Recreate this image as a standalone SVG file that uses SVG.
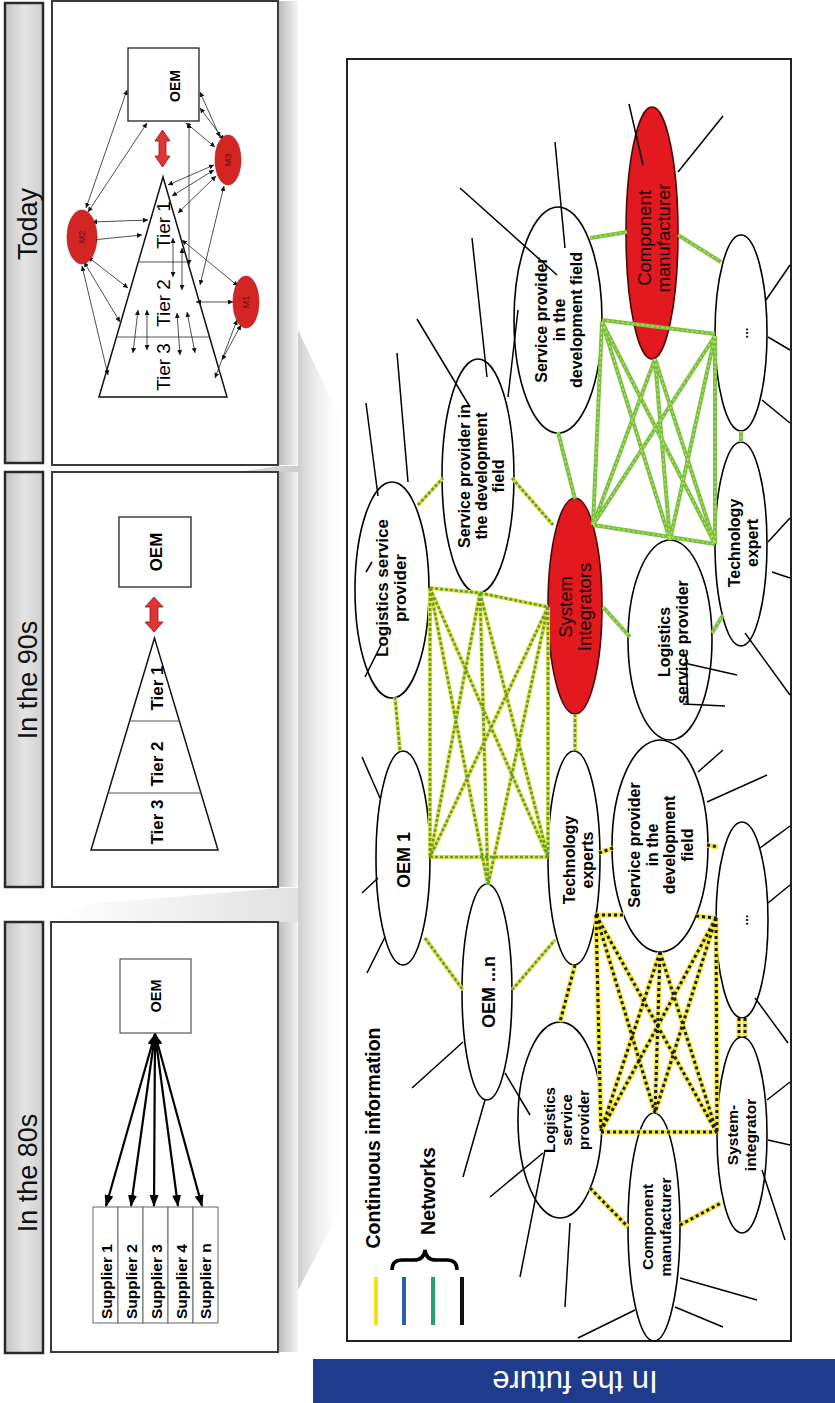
<svg xmlns="http://www.w3.org/2000/svg" width="835" height="1403" viewBox="0 0 835 1403">
<defs>
<style>
.t{font-family:"Liberation Sans",Arial,sans-serif;text-anchor:middle;fill:#000}
.b{font-weight:bold}
.hd{font-size:27px;fill:#111}
.box{fill:#fff;stroke:#3a3a3a;stroke-width:2}
.hbar{fill:url(#hdr);stroke:#2a2a2a;stroke-width:2.5}
.el{fill:#fff;stroke:#000;stroke-width:1.6}
.red{fill:#e2191e;stroke:#4a0808;stroke-width:1.6}
.lb{font-size:16px;font-weight:bold}
.rl{font-size:18.5px;fill:#1a0505}
.stub{stroke:#000;stroke-width:1.5;fill:none}
.c1{stroke:#78c044;stroke-width:4;fill:none}
.c1o{stroke:#d4e65a;stroke-width:1.2;stroke-dasharray:2 3;fill:none}
.c2{stroke:#e4e23c;stroke-width:4;fill:none}
.c2o{stroke:#5e9c3c;stroke-width:2.6;stroke-dasharray:3 2;fill:none}
.c3{stroke:#f2e83a;stroke-width:5;fill:none}
.c3o{stroke:#1a1a1a;stroke-width:3;stroke-dasharray:3 3;fill:none}
.ta{stroke:#222;stroke-width:0.8;marker-start:url(#sa);marker-end:url(#sa)}
.ba{stroke:#000;stroke-width:2.2;marker-start:url(#ba);marker-end:url(#ba)}
.mb{fill:#d42525;stroke:#a01515;stroke-width:0.6}
.ml{font-size:9px;fill:#6a0f0f}
.dar{fill:#e03535;stroke:#8a1515;stroke-width:0.8}
.tri{fill:#fff;stroke:#111;stroke-width:1.5}
.div{stroke:#555;stroke-width:1}
.sq{fill:#fff;stroke:#222;stroke-width:1.3}
.sup{fill:#fff;stroke:#666;stroke-width:1}
.st{font-size:15.5px;font-weight:bold;text-anchor:start}
</style>
<linearGradient id="hdr" x1="0" y1="0" x2="1" y2="0"><stop offset="0" stop-color="#c4c4c4"/><stop offset="0.5" stop-color="#e4e4e4"/><stop offset="1" stop-color="#cfcfcf"/></linearGradient>
<linearGradient id="shR" x1="0" y1="0" x2="1" y2="0"><stop offset="0" stop-color="#b9b9b9"/><stop offset="1" stop-color="#f4f4f4"/></linearGradient>
<linearGradient id="fan" x1="0" y1="0" x2="1" y2="0"><stop offset="0" stop-color="#cdcdcd"/><stop offset="1" stop-color="#ffffff" stop-opacity="0"/></linearGradient>
<linearGradient id="wedge" x1="0" y1="0" x2="1" y2="0"><stop offset="0" stop-color="#ffffff"/><stop offset="1" stop-color="#cdcdcd"/></linearGradient>
<marker id="sa" viewBox="0 0 6 6" markerWidth="5" markerHeight="5" refX="6" refY="3" orient="auto-start-reverse" markerUnits="userSpaceOnUse"><path d="M0,0 L6,3 L0,6 z" fill="#111"/></marker>
<marker id="ba" viewBox="0 0 12 9" markerWidth="12" markerHeight="9" refX="11" refY="4.5" orient="auto-start-reverse" markerUnits="userSpaceOnUse"><path d="M0,0 L12,4.5 L0,9 z" fill="#000"/></marker>
</defs>
<rect x="0" y="0" width="835" height="1403" fill="#fff"/>

<!-- background shading -->
<g id="shading">
<polygon points="298,330 346,430 346,1200 298,1290" fill="url(#fan)"/>
<rect x="278" y="1" width="20" height="464" fill="url(#shR)"/>
<rect x="278" y="472" width="20" height="415" fill="url(#shR)"/>
<rect x="278" y="922" width="20" height="430" fill="url(#shR)"/>
<polygon points="95,492 280,466 300,466 300,472 52,472" fill="url(#wedge)"/>
<polygon points="90,904 280,888 300,888 300,922 52,922" fill="url(#wedge)" opacity="0.6"/>
</g>

<!-- Today panel -->
<g id="panel-today">
<rect class="hbar" x="5" y="3" width="38" height="460"/>
<text class="t hd" transform="translate(37,224) rotate(-90)">Today</text>
<rect class="box" x="52" y="1" width="226" height="464"/>
<g id="today-oem"><rect class="sq" x="128" y="48" width="71" height="73"/><text class="t b" font-size="14" transform="translate(180,86) rotate(-90)">OEM</text></g>
<polygon class="dar" points="162.5,130 170,141 166,141 166,156 170,156 162.5,167 155,156 159,156 159,141 155,141"/>
<g id="today-tiers">
<polygon class="tri" points="163,177 99,397 227,397"/>
<line class="div" x1="138" y1="262" x2="188" y2="262"/>
<line class="div" x1="117" y1="337" x2="209" y2="337"/>
<text class="t" font-size="19" transform="translate(170,225) rotate(-90)">Tier 1</text>
<text class="t" font-size="19" transform="translate(170,303) rotate(-90)">Tier 2</text>
<text class="t" font-size="19" transform="translate(170,367) rotate(-90)">Tier 3</text>
</g>
<g id="today-arrows">
<line class="ta" x1="86" y1="208" x2="127" y2="90"/>
<line class="ta" x1="88" y1="212" x2="147" y2="123"/>
<line class="ta" x1="92" y1="222" x2="148" y2="220"/>
<line class="ta" x1="92" y1="240" x2="142" y2="235"/>
<line class="ta" x1="88" y1="257" x2="128" y2="288"/>
<line class="ta" x1="84" y1="262" x2="120" y2="322"/>
<line class="ta" x1="82" y1="266" x2="108" y2="375"/>
<line class="ta" x1="220" y1="137" x2="200" y2="92"/>
<line class="ta" x1="224" y1="140" x2="200" y2="108"/>
<line class="ta" x1="215" y1="147" x2="186" y2="123"/>
<line class="ta" x1="214" y1="165" x2="168" y2="185"/>
<line class="ta" x1="214" y1="170" x2="172" y2="196"/>
<line class="ta" x1="216" y1="176" x2="178" y2="213"/>
<line class="ta" x1="224" y1="186" x2="200" y2="285"/>
<line class="ta" x1="233" y1="302" x2="196" y2="302"/>
<line class="ta" x1="237" y1="320" x2="215" y2="378"/>
<line class="ta" x1="241" y1="325" x2="222" y2="360"/>
<line class="ta" x1="238" y1="286" x2="182" y2="240"/>
<line class="ta" x1="189" y1="123" x2="189" y2="265"/>
<line class="ta" x1="173" y1="238" x2="173" y2="277"/>
<line class="ta" x1="182" y1="248" x2="182" y2="290"/>
<line class="ta" x1="138" y1="310" x2="133" y2="353"/>
<line class="ta" x1="147" y1="310" x2="147" y2="350"/>
<line class="ta" x1="177" y1="313" x2="180" y2="355"/>
<line class="ta" x1="187" y1="312" x2="195" y2="353"/>
</g>
<g id="today-m2"><ellipse class="mb" cx="82" cy="237" rx="15" ry="27"/><text class="t ml" transform="translate(85,237) rotate(-90)">M2</text></g>
<g id="today-m3"><ellipse class="mb" cx="228" cy="160" rx="13" ry="25"/><text class="t ml" transform="translate(231,160) rotate(-90)">M3</text></g>
<g id="today-m1"><ellipse class="mb" cx="246" cy="302" rx="13" ry="26"/><text class="t ml" transform="translate(249,302) rotate(-90)">M1</text></g>
</g>

<!-- 90s panel -->
<g id="panel-90s">
<rect class="hbar" x="5" y="472" width="38" height="415"/>
<text class="t hd" transform="translate(37,680) rotate(-90)">In the 90s</text>
<rect class="box" x="52" y="472" width="226" height="415"/>
<g id="s90-oem"><rect class="sq" x="119" y="517" width="72" height="70"/><text class="t b" font-size="17" transform="translate(162,552) rotate(-90)">OEM</text></g>
<polygon class="dar" points="154,597 163,607 158,607 158,622 163,622 154,632 145,622 150,622 150,607 145,607"/>
<g id="s90-tiers">
<polygon class="tri" points="154.5,638 91,850 218,850"/>
<line class="div" x1="129.5" y1="721" x2="179.5" y2="721"/>
<line class="div" x1="108" y1="793" x2="201" y2="793"/>
<text class="t b" font-size="17" transform="translate(163,688) rotate(-90)">Tier 1</text>
<text class="t b" font-size="17" transform="translate(163,764) rotate(-90)">Tier 2</text>
<text class="t b" font-size="17" transform="translate(163,822) rotate(-90)">Tier 3</text>
</g>
</g>

<!-- 80s panel -->
<g id="panel-80s">
<rect class="hbar" x="5" y="922" width="38" height="431"/>
<text class="t hd" transform="translate(37,1173) rotate(-90)">In the 80s</text>
<rect class="box" x="51" y="922" width="227" height="430"/>
<g id="s80-oem"><rect x="120" y="959" width="71" height="74" fill="#fff" stroke="#333" stroke-width="1"/><text class="t b" font-size="14.5" transform="translate(161,996) rotate(-90)">OEM</text></g>
<g id="s80-suppliers">
<rect class="sup" x="93" y="1207" width="25" height="116"/>
<rect class="sup" x="118" y="1207" width="25" height="116"/>
<rect class="sup" x="143" y="1207" width="25" height="116"/>
<rect class="sup" x="168" y="1207" width="25" height="116"/>
<rect class="sup" x="193" y="1207" width="25" height="116"/>
<text class="t st" transform="translate(112,1319) rotate(-90)">Supplier 1</text>
<text class="t st" transform="translate(137,1319) rotate(-90)">Supplier 2</text>
<text class="t st" transform="translate(162,1319) rotate(-90)">Supplier 3</text>
<text class="t st" transform="translate(187,1319) rotate(-90)">Supplier 4</text>
<text class="t st" transform="translate(211,1319) rotate(-90)">Supplier n</text>
</g>
<g id="s80-arrows">
<line class="ba" x1="155" y1="1034" x2="106" y2="1206"/>
<line class="ba" x1="155" y1="1034" x2="131" y2="1206"/>
<line class="ba" x1="155" y1="1034" x2="154" y2="1206"/>
<line class="ba" x1="155" y1="1034" x2="178" y2="1206"/>
<line class="ba" x1="155" y1="1034" x2="202" y2="1206"/>
</g>
</g>

<!-- Future panel -->
<g id="panel-future">
<rect x="347" y="59" width="444" height="1282" fill="#fff" stroke="#222" stroke-width="2"/>

<g id="n-cm-top"><ellipse class="red" cx="652" cy="233" rx="26" ry="126"/><text class="t rl" transform="translate(651,238) rotate(-90)"><tspan x="0">Component</tspan><tspan x="0" dy="19">manufacturer</tspan></text></g>
<g id="n-spd-top"><ellipse class="el" cx="558" cy="320" rx="44" ry="113"/><text class="t lb" transform="translate(547,320) rotate(-90)"><tspan x="0">Service provider</tspan><tspan x="0" dy="17.5">in the</tspan><tspan x="0" dy="17.5">development field</tspan></text></g>
<g id="n-dots-top"><ellipse class="el" cx="741" cy="333" rx="26" ry="98"/><text class="t b" font-size="13" transform="translate(748,333) rotate(-90)">...</text></g>
<g id="n-techexp"><ellipse class="el" cx="741" cy="544" rx="26" ry="102"/><text class="t lb" transform="translate(740,543) rotate(-90)"><tspan x="0">Technology</tspan><tspan x="0" dy="18">expert</tspan></text></g>
<g id="n-lsp-right"><ellipse class="el" cx="670" cy="640" rx="42" ry="100"/><text class="t lb" transform="translate(670,642) rotate(-90)"><tspan x="0">Logistics</tspan><tspan x="0" dy="18">service provider</tspan></text></g>
<g id="n-sysint"><ellipse class="red" cx="575" cy="606" rx="27" ry="108"/><text class="t rl" transform="translate(572,607) rotate(-90)"><tspan x="0">System</tspan><tspan x="0" dy="19">Integrators</tspan></text></g>
<g id="n-spd-mid"><ellipse class="el" cx="478" cy="476" rx="36" ry="117"/><text class="t lb" transform="translate(470,476) rotate(-90)"><tspan x="0">Service provider in</tspan><tspan x="0" dy="17">the development</tspan><tspan x="0" dy="17">field</tspan></text></g>
<g id="n-lsp-left"><ellipse class="el" cx="392" cy="590" rx="37" ry="108"/><text class="t b" font-size="17" transform="translate(388,588) rotate(-90)"><tspan x="0">Logistics service</tspan><tspan x="0" dy="18">provider</tspan></text></g>
<g id="n-oem1"><ellipse class="el" cx="403" cy="858" rx="27" ry="107"/><text class="t b" font-size="18" transform="translate(410,860) rotate(-90)">OEM 1</text></g>
<g id="n-oemn"><ellipse class="el" cx="487" cy="992" rx="25" ry="108"/><text class="t b" font-size="18" transform="translate(495,992) rotate(-90)">OEM ...n</text></g>
<g id="n-techexps"><ellipse class="el" cx="574" cy="858" rx="26" ry="107"/><text class="t lb" transform="translate(575,860) rotate(-90)"><tspan x="0">Technology</tspan><tspan x="0" dy="18">experts</tspan></text></g>
<g id="n-spd-low"><ellipse class="el" cx="660" cy="846" rx="48" ry="106"/><text class="t lb" transform="translate(640,845) rotate(-90)"><tspan x="0">Service provider</tspan><tspan x="0" dy="17.5">in the</tspan><tspan x="0" dy="17.5">development</tspan><tspan x="0" dy="17.5">field</tspan></text></g>
<g id="n-dots-low"><ellipse class="el" cx="742" cy="920" rx="26" ry="98"/><text class="t b" font-size="13" transform="translate(748,920) rotate(-90)">...</text></g>
<g id="n-lsp-low"><ellipse class="el" cx="560" cy="1120" rx="42" ry="98"/><text class="t b" font-size="15" transform="translate(555,1120) rotate(-90)"><tspan x="0">Logistics</tspan><tspan x="0" dy="17">service</tspan><tspan x="0" dy="17">provider</tspan></text></g>
<g id="n-cm-low"><ellipse class="el" cx="654" cy="1227" rx="26" ry="114"/><text class="t b" font-size="15.5" transform="translate(653,1227) rotate(-90)"><tspan x="0">Component</tspan><tspan x="0" dy="18">manufacturer</tspan></text></g>
<g id="n-sysintegrator"><ellipse class="el" cx="742" cy="1135" rx="25" ry="98"/><text class="t b" font-size="15.5" transform="translate(738,1135) rotate(-90)"><tspan x="0">System-</tspan><tspan x="0" dy="18">integrator</tspan></text></g>

<g id="connectors">
<g class="c1"><g id="L1">
<line x1="590" y1="238" x2="627" y2="232"/>
<line x1="678" y1="235" x2="721" y2="262"/>
<line x1="602" y1="320" x2="715" y2="334"/>
<line x1="558" y1="432" x2="575" y2="499"/>
<line x1="741" y1="431" x2="741" y2="442"/>
<line x1="593" y1="525" x2="715" y2="544"/>
<line x1="602" y1="322" x2="593" y2="525"/>
<line x1="602" y1="322" x2="670" y2="540"/>
<line x1="602" y1="322" x2="715" y2="544"/>
<line x1="655" y1="359" x2="593" y2="525"/>
<line x1="655" y1="359" x2="670" y2="540"/>
<line x1="655" y1="359" x2="715" y2="544"/>
<line x1="715" y1="336" x2="593" y2="525"/>
<line x1="715" y1="336" x2="670" y2="540"/>
<line x1="715" y1="336" x2="715" y2="544"/>
<line x1="603" y1="607" x2="630" y2="637"/>
<line x1="712" y1="633" x2="723" y2="615"/>
</g></g>
<use href="#L1" class="c1o"/>
<g class="c2"><g id="L2">
<line x1="418" y1="505" x2="443" y2="478"/>
<line x1="512" y1="478" x2="553" y2="525"/>
<line x1="430" y1="588" x2="480" y2="593"/>
<line x1="480" y1="593" x2="548" y2="607"/>
<line x1="395" y1="697" x2="400" y2="751"/>
<line x1="575" y1="714" x2="575" y2="751"/>
<line x1="430" y1="857" x2="548" y2="857"/>
<line x1="430" y1="588" x2="430" y2="857"/>
<line x1="430" y1="588" x2="488" y2="885"/>
<line x1="430" y1="588" x2="548" y2="857"/>
<line x1="480" y1="593" x2="430" y2="857"/>
<line x1="480" y1="593" x2="488" y2="885"/>
<line x1="480" y1="593" x2="548" y2="857"/>
<line x1="548" y1="607" x2="430" y2="857"/>
<line x1="548" y1="607" x2="488" y2="885"/>
<line x1="548" y1="607" x2="548" y2="857"/>
<line x1="425" y1="938" x2="463" y2="990"/>
<line x1="512" y1="990" x2="555" y2="940"/>
</g></g>
<use href="#L2" class="c2o"/>
<g class="c3"><g id="L3">
<line x1="599" y1="853" x2="613" y2="848"/>
<line x1="707" y1="845" x2="718" y2="847"/>
<line x1="596" y1="915" x2="624" y2="915"/>
<line x1="696" y1="916" x2="716" y2="918"/>
<line x1="601" y1="1132" x2="717" y2="1132"/>
<line x1="575" y1="965" x2="560" y2="1022"/>
<line x1="590" y1="1188" x2="628" y2="1227"/>
<line x1="680" y1="1225" x2="721" y2="1203"/>
<line x1="739" y1="1018" x2="739" y2="1037"/>
<line x1="745" y1="1018" x2="745" y2="1037"/>
<line x1="596" y1="915" x2="601" y2="1131"/>
<line x1="596" y1="915" x2="655" y2="1113"/>
<line x1="596" y1="915" x2="717" y2="1133"/>
<line x1="660" y1="952" x2="601" y2="1131"/>
<line x1="660" y1="952" x2="655" y2="1113"/>
<line x1="660" y1="952" x2="717" y2="1133"/>
<line x1="716" y1="918" x2="601" y2="1131"/>
<line x1="716" y1="918" x2="655" y2="1113"/>
<line x1="716" y1="918" x2="717" y2="1133"/>
</g></g>
<use href="#L3" class="c3o"/>
<g id="stubs" class="stub">
<line x1="629" y1="104" x2="643" y2="165"/>
<line x1="723" y1="116" x2="678" y2="172"/>
<line x1="460" y1="188" x2="557" y2="275"/>
<line x1="555" y1="142" x2="565" y2="248"/>
<line x1="472" y1="238" x2="487" y2="377"/>
<line x1="417" y1="319" x2="470" y2="407"/>
<line x1="397" y1="353" x2="408" y2="482"/>
<line x1="366" y1="403" x2="378" y2="496"/>
<line x1="518" y1="310" x2="508" y2="397"/>
<line x1="766" y1="300" x2="790" y2="265"/>
<line x1="768" y1="337" x2="790" y2="350"/>
<line x1="762" y1="400" x2="790" y2="423"/>
<line x1="768" y1="542" x2="790" y2="518"/>
<line x1="772" y1="572" x2="790" y2="578"/>
<line x1="745" y1="633" x2="790" y2="695"/>
<line x1="686" y1="655" x2="688" y2="705"/>
<line x1="684" y1="663" x2="737" y2="675"/>
<line x1="683" y1="704" x2="725" y2="706"/>
<line x1="366" y1="572" x2="372" y2="562"/>
<line x1="365" y1="677" x2="382" y2="643"/>
<line x1="362" y1="757" x2="380" y2="798"/>
<line x1="362" y1="893" x2="378" y2="878"/>
<line x1="698" y1="772" x2="723" y2="750"/>
<line x1="707" y1="802" x2="767" y2="775"/>
<line x1="760" y1="848" x2="790" y2="826"/>
<line x1="768" y1="903" x2="790" y2="885"/>
<line x1="367" y1="973" x2="385" y2="937"/>
<line x1="463" y1="1042" x2="412" y2="1088"/>
<line x1="485" y1="1100" x2="463" y2="1177"/>
<line x1="505" y1="1073" x2="530" y2="1115"/>
<line x1="755" y1="998" x2="788" y2="1043"/>
<line x1="767" y1="1100" x2="790" y2="1082"/>
<line x1="768" y1="1140" x2="790" y2="1145"/>
<line x1="490" y1="1197" x2="543" y2="1153"/>
<line x1="520" y1="1277" x2="545" y2="1150"/>
<line x1="565" y1="1307" x2="570" y2="1223"/>
<line x1="680" y1="1278" x2="757" y2="1300"/>
<line x1="675" y1="1307" x2="723" y2="1327"/>
<line x1="635" y1="1310" x2="578" y2="1338"/>
<line x1="762" y1="1170" x2="785" y2="1240"/>
</g>
</g>

<g id="legend">
<text class="t b" font-size="19.5" transform="translate(380,1138) rotate(-90)">Continuous information</text>
<text class="t b" font-size="19.5" transform="translate(435,1191) rotate(-90)">Networks</text>
<path d="M392,1270 Q392,1260 402,1260 L414,1260 Q424,1260 425,1250 Q426,1260 436,1260 L447,1260 Q457,1260 457,1270" fill="none" stroke="#000" stroke-width="3.5"/>
<line x1="376" y1="1277" x2="376" y2="1325" stroke="#f2e21e" stroke-width="4"/>
<line x1="404" y1="1277" x2="404" y2="1325" stroke="#2a5ea8" stroke-width="4"/>
<line x1="433" y1="1277" x2="433" y2="1325" stroke="#1ea46c" stroke-width="4"/>
<line x1="462" y1="1277" x2="462" y2="1325" stroke="#111" stroke-width="4"/>
</g>
</g>

<g id="future-bar">
<rect x="313" y="1359" width="522" height="44" fill="#1e3b8c"/>
<text class="t" font-size="31" style="fill:#fff" transform="translate(575,1371) rotate(180)">In the future</text>
</g>
</svg>
